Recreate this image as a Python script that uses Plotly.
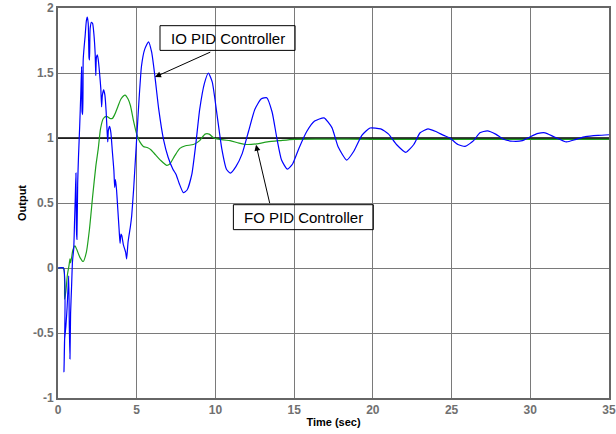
import plotly.graph_objects as go

# IO PID controller response
io_t = [0, 0.35, 0.38, 0.42, 0.5, 0.58, 0.64, 0.68, 0.72, 0.76, 0.8, 0.86, 0.92, 1.0, 1.05, 1.1, 1.14,
        1.17, 1.2, 1.25, 1.3, 1.38, 1.45, 1.5, 1.53, 1.57, 1.6, 1.66, 1.72, 1.8, 1.86, 1.92, 1.97, 2.0,
        2.04, 2.12, 2.2, 2.28, 2.36, 2.4, 2.44, 2.5, 2.56, 2.64, 2.72, 2.77, 2.82, 2.9, 2.98, 3.06, 3.12,
        3.16, 3.2, 3.28, 3.36, 3.45, 3.55, 3.6, 3.65, 3.72, 3.8, 3.88, 3.94, 4.0, 4.05, 4.15, 4.25, 4.3,
        4.36, 4.45, 4.6, 4.68, 4.8, 4.9, 5.0, 5.15, 5.3, 5.5, 5.75, 5.95, 6.16, 6.4, 6.7, 7.0, 7.3, 7.5,
        7.7, 7.96, 8.2, 8.5, 8.75, 9.0, 9.3, 9.55, 9.8, 10.1, 10.4, 10.7, 10.95, 11.3, 11.7, 12.1, 12.5,
        12.9, 13.26, 13.6, 13.9, 14.2, 14.57, 14.9, 15.3, 15.8, 16.3, 16.9, 17.4, 17.8, 18.34, 18.8, 19.3,
        19.82, 20.5, 21.0, 21.5, 22.1, 22.6, 23.0, 23.5, 24.0, 24.5, 24.9, 25.4, 25.86, 26.4, 26.8, 27.27,
        27.8, 28.3, 28.9, 29.5, 30.0, 30.5, 30.94, 31.5, 32.3, 32.9, 33.5, 34.3, 35]
io_y = [0, 0, -0.80, -0.55, -0.45, -0.30, -0.15, -0.06, -0.45, -0.70, -0.35, -0.15, 0.05, 0.15, 0.35,
        0.55, 0.73, 0.30, 0.22, 0.65, 0.85, 1.10, 1.35, 1.55, 1.20, 1.18, 1.60, 1.70, 1.78, 1.90, 1.93,
        1.88, 1.62, 1.60, 1.84, 1.89, 1.88, 1.80, 1.65, 1.48, 1.62, 1.64, 1.60, 1.50, 1.38, 1.24, 1.33,
        1.37, 1.33, 1.20, 1.05, 0.97, 1.06, 1.09, 1.04, 0.90, 0.75, 0.62, 0.68, 0.60, 0.45, 0.30, 0.19,
        0.26, 0.25, 0.18, 0.14, 0.12, 0.07, 0.20, 0.32, 0.40, 0.60, 0.80, 1.00, 1.30, 1.55, 1.68, 1.74,
        1.66, 1.47, 1.22, 0.99, 0.85, 0.76, 0.72, 0.65, 0.58, 0.60, 0.72, 0.95, 1.22, 1.42, 1.50, 1.43,
        1.18, 0.92, 0.76, 0.73, 0.78, 0.88, 1.05, 1.22, 1.30, 1.31, 1.20, 1.00, 0.83, 0.76, 0.80, 0.92,
        1.05, 1.13, 1.155, 1.08, 0.93, 0.83, 0.90, 1.02, 1.077, 1.07, 1.03, 0.95, 0.89, 0.95, 1.04, 1.07,
        1.05, 1.02, 1.00, 0.95, 0.935, 0.98, 1.04, 1.055, 1.03, 0.99, 0.975, 0.98, 1.01, 1.035, 1.04, 1.01,
        0.97, 0.99, 1.01, 1.02, 1.025]

# FO PID controller response
fo_t = [0, 0.35, 0.42, 0.5, 0.6, 0.7, 0.76, 0.8, 0.85, 0.95, 1.08, 1.2, 1.4, 1.6, 1.8, 2.0, 2.2, 2.4,
        2.56, 2.7, 2.88, 3.09, 3.3, 3.45, 3.6, 3.8, 4.0, 4.26, 4.45, 4.6, 4.8, 5.0, 5.2, 5.42, 5.7, 5.9,
        6.2, 6.5, 6.9, 7.1, 7.4, 7.74, 8.1, 8.6, 9.0, 9.34, 9.6, 9.9, 10.5, 10.93, 11.5, 12.0, 12.6, 13.3,
        14.1, 15, 20, 35]
fo_y = [0, 0, -0.24, -0.18, -0.05, 0.02, 0.07, 0.04, 0.07, 0.14, 0.17, 0.14, 0.08, 0.05, 0.12, 0.30,
        0.55, 0.78, 0.92, 1.07, 1.15, 1.166, 1.15, 1.15, 1.18, 1.24, 1.30, 1.33, 1.30, 1.25, 1.13, 1.03,
        0.97, 0.935, 0.925, 0.91, 0.87, 0.83, 0.79, 0.80, 0.86, 0.92, 0.94, 0.95, 0.98, 1.03, 1.03, 1.00,
        0.985, 0.98, 0.96, 0.95, 0.955, 0.97, 0.98, 0.99, 0.99, 0.99]

ref_t = [0, 35]
ref_y = [1, 1]

x_ticks = [0, 5, 10, 15, 20, 25, 30, 35]
y_ticks = [-1, -0.5, 0, 0.5, 1, 1.5, 2]
y_tick_labels = ["-1", "-0.5", "0", "0.5", "1", "1.5", "2"]

FONT = "Liberation Sans, Arial, sans-serif"

fig = go.Figure()
fig.add_trace(go.Scatter(x=ref_t, y=ref_y, mode="lines", line=dict(color="black", width=1.5),
                         showlegend=False, hoverinfo="skip"))
fig.add_trace(go.Scatter(x=fo_t, y=fo_y, mode="lines", line=dict(color="#1ea01e", width=1.2,
                         shape="spline", smoothing=0.6), name="FO PID", showlegend=False))
fig.add_trace(go.Scatter(x=io_t, y=io_y, mode="lines", line=dict(color="#0000ff", width=1.2,
                         shape="spline", smoothing=0.5), name="IO PID", showlegend=False))

# text boxes
fig.add_shape(type="rect", x0=6.48, x1=15.06, y0=1.674, y1=1.864, line=dict(color="black", width=1),
              fillcolor="rgba(0,0,0,0)", layer="above")
fig.add_annotation(x=10.77, y=1.769, text="IO PID Controller", showarrow=False,
                   font=dict(family=FONT, size=15, color="black"))
fig.add_annotation(x=6.16, y=1.469, ax=9.77, ay=1.666, axref="x", ayref="y", text="", showarrow=True,
                   arrowhead=2, arrowsize=1.2, arrowwidth=1, arrowcolor="black")

fig.add_shape(type="rect", x0=11.14, x1=20.03, y0=0.295, y1=0.487, line=dict(color="black", width=1),
              fillcolor="rgba(0,0,0,0)", layer="above")
fig.add_annotation(x=15.58, y=0.391, text="FO PID Controller", showarrow=False,
                   font=dict(family=FONT, size=15, color="black"))
fig.add_annotation(x=12.58, y=0.948, ax=13.47, ay=0.487, axref="x", ayref="y", text="", showarrow=True,
                   arrowhead=2, arrowsize=1.2, arrowwidth=1, arrowcolor="black")

fig.update_xaxes(range=[0, 35], tickvals=x_ticks, showgrid=True, gridcolor="#7a7a7a", gridwidth=1,
                 zeroline=False, showline=True, linecolor="#666666", linewidth=2, mirror=True,
                 ticks="", automargin=False,
                 tickfont=dict(family=FONT, size=12, color="#707070", weight="bold"),
                 title=dict(text="Time (sec)", standoff=2,
                            font=dict(family=FONT, size=11, color="black", weight="bold")))
fig.update_yaxes(range=[-1, 2], tickvals=y_ticks, ticktext=y_tick_labels, showgrid=True,
                 gridcolor="#7a7a7a", gridwidth=1, zeroline=False, showline=True, linecolor="#666666",
                 linewidth=2, mirror=True, ticks="", automargin=False,
                 tickfont=dict(family=FONT, size=12, color="#707070", weight="bold"),
                 title=dict(text="Output", standoff=4,
                            font=dict(family=FONT, size=11, color="black", weight="bold")))

fig.update_layout(width=616, height=434, margin=dict(l=58, r=7, t=8, b=36),
                  plot_bgcolor="white", paper_bgcolor="white", showlegend=False)

fig.write_html("out.html", config={"displayModeBar": False},
               post_script="document.body.style.margin='0';")
